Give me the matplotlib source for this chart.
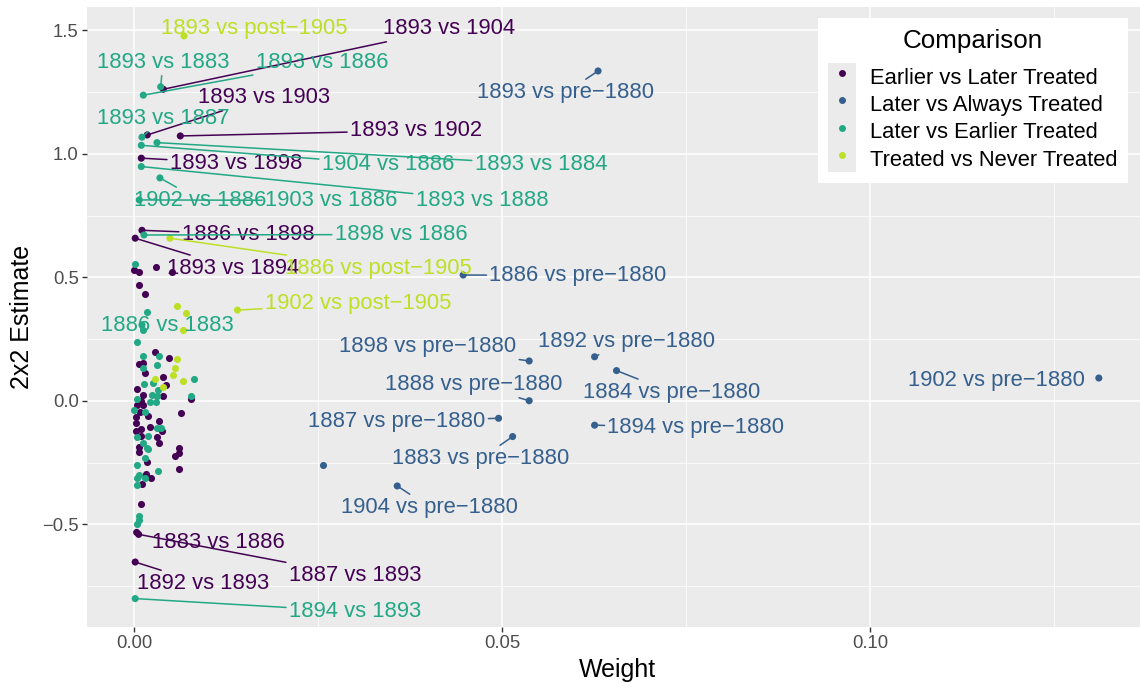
import matplotlib
matplotlib.use('Agg')
import matplotlib.pyplot as plt
from matplotlib.lines import Line2D
from matplotlib.patches import Rectangle
from matplotlib.legend_handler import HandlerLine2D

plt.rcParams['font.family'] = ['Liberation Sans', 'DejaVu Sans']

groups = ['Earlier vs Later Treated', 'Later vs Always Treated',
          'Later vs Earlier Treated', 'Treated vs Never Treated']
pal = plt.cm.viridis([0.0, 0.3, 0.6, 0.9])
colors = dict(zip(groups, pal))

# unlabeled 2x2 estimates, by comparison type
elt_w = [0.0, 0.00065, 0.00292, 0.0051, 0.00057, 0.00139,
         0.00283, 0.00465, 0.00057, 0.00111, 0.00147, 0.00383, 0.00428, 0.00038,
         0.00111, 0.00383, 0.00084, 0.00764, 0.0003, 0.0012, 0.00075, 0.00636,
         0.00183, 0.0002, 0.0002, 0.00337, 0.00211, 0.00374, 0.0002, 0.00084,
         0.00084, 0.0031, 0.00337, 0.006, 0.00057,
         0.00065, 0.006, 0.00554, 0.00166, 0.006, 0.00156, 0.0022, 0.00102, 0.00084]
elt_e = [0.529, 0.523, 0.544, 0.523, 0.470, 0.434,
         0.198, 0.174, 0.150, 0.155, 0.112, 0.096, 0.064, 0.047,
         0.026, 0.020, -0.001, 0.007, -0.017, -0.017, -0.045, -0.050,
         -0.061, -0.066, -0.088, -0.082, -0.107, -0.123, -0.120, -0.115,
         -0.142, -0.147, -0.169, -0.190, -0.185,
         -0.205, -0.211, -0.221, -0.248, -0.275, -0.297, -0.310, -0.337, -0.416]

let_w = [0.0001, 0.00166, 0.00111, 0.0004,
         0.00337, 0.0012, 0.0031, 0.00111, 0.00808, 0.00256, 0.00129, 0.00319,
         0.00238, 0.00302, 0.0003, 0.00211, 0.00292, 0.00764, 0.0, 0.00147,
         0.00302, 0.00364, 0.0003, 0.00183, 0.0012, 0.00166,
         0.00183, 0.00147, 0.0003, 0.00319, 0.00065, 0.0003, 0.00139, 0.0004,
         0.00057, 0.00065, 0.0004]
let_e = [0.553, 0.359, 0.287, 0.238,
         0.182, 0.182, 0.147, 0.134, 0.090, 0.074, 0.069, 0.045,
         0.026, 0.020, 0.009, -0.004, -0.004, 0.020, -0.036, -0.045,
         -0.109, -0.109, -0.147, -0.142, -0.169, -0.190,
         -0.194, -0.232, -0.259, -0.283, -0.300, -0.313, -0.313, -0.340,
         -0.464, -0.483, -0.497]

tnt_w = [0.00573, 0.007, 0.00663, 0.00573, 0.00546, 0.00527, 0.00663, 0.00274, 0.00383]
tnt_e = [0.386, 0.358, 0.287, 0.169, 0.134, 0.107, 0.080, 0.088, 0.058]

lat_w = [0.02565]
lat_e = [-0.259]

# labeled 2x2 estimates
lab_text = ['1893 vs 1904', '1893 vs 1903', '1893 vs 1902', '1893 vs 1898',
            '1886 vs 1898', '1893 vs 1894', '1883 vs 1886', '1887 vs 1893',
            '1892 vs 1893',
            '1893 vs 1883', '1893 vs 1886', '1893 vs 1887', '1893 vs 1884',
            '1904 vs 1886', '1893 vs 1888', '1902 vs 1886', '1903 vs 1886',
            '1898 vs 1886', '1886 vs 1883', '1894 vs 1893',
            '1893 vs post\u22121905', '1886 vs post\u22121905', '1902 vs post\u22121905',
            '1893 vs pre\u22121880', '1886 vs pre\u22121880', '1898 vs pre\u22121880',
            '1892 vs pre\u22121880', '1884 vs pre\u22121880', '1888 vs pre\u22121880',
            '1887 vs pre\u22121880', '1894 vs pre\u22121880', '1883 vs pre\u22121880',
            '1904 vs pre\u22121880', '1902 vs pre\u22121880']
lab_group = [groups[0]] * 9 + [groups[2]] * 11 + [groups[3]] * 3 + [groups[1]] * 11
lab_w = [0.00392, 0.00174, 0.00623, 0.00093, 0.00102, 0.0001, 0.0003, 0.00057, 0.0001,
         0.00356, 0.0012, 0.00102, 0.00306, 0.00093, 0.00093, 0.00346, 0.00065,
         0.00129, 0.00102, 0.0001,
         0.00673, 0.00482, 0.0140,
         0.0630, 0.04467, 0.05364, 0.06253, 0.06551, 0.05364, 0.04948, 0.06253,
         0.05139, 0.03571, 0.13105]
lab_e = [1.262, 1.077, 1.073, 0.983, 0.691, 0.659, -0.532, -0.540, -0.652,
         1.272, 1.238, 1.068, 1.046, 1.035, 0.949, 0.903, 0.814, 0.672, 0.308, -0.80,
         1.478, 0.659, 0.368,
         1.336, 0.510, 0.162, 0.179, 0.123, 0.001, -0.070, -0.098, -0.144, -0.344, 0.093]

# where the repelled labels ended up (data coords)
label_pos = [(0.04273, 1.518), (0.01760, 1.239), (0.03825, 1.105), (0.01379, 0.972),
             (0.01542, 0.684), (0.01345, 0.547), (0.01134, -0.563), (0.02996, -0.696),
             (0.00931, -0.729),
             (0.00387, 1.381), (0.02548, 1.381), (0.00387, 1.154), (0.05523, 0.968),
             (0.03444, 0.968), (0.04721, 0.822), (0.0089, 0.822), (0.0267, 0.822),
             (0.03621, 0.684), (0.00442, 0.316), (0.02996, -0.842),
             (0.01624, 1.518), (0.03308, 0.547), (0.03037, 0.405),
             (0.05863, 1.259), (0.06026, 0.518), (0.03988, 0.231), (0.06692, 0.251),
             (0.07303, 0.045), (0.04613, 0.077), (0.03567, -0.073), (0.07629, -0.097),
             (0.04708, -0.223), (0.04015, -0.421), (0.11719, 0.093)]
no_segment = {'1886 vs 1883', '1893 vs post\u22121905', '1902 vs pre\u22121880', '1883 vs 1886'}

fig = plt.figure(figsize=(11.4, 6.83), dpi=100)
ax = fig.add_axes([87 / 1140, 1 - 627 / 683, 1060 / 1140, 620 / 683])
ax.set_facecolor('#EBEBEB')
for s in ax.spines.values():
    s.set_visible(False)

ms = 26
ax.scatter(elt_w, elt_e, s=ms, color=colors[groups[0]], linewidths=0, zorder=3)
ax.scatter(lat_w, lat_e, s=ms, color=colors[groups[1]], linewidths=0, zorder=3)
ax.scatter(let_w, let_e, s=ms, color=colors[groups[2]], linewidths=0, zorder=3)
ax.scatter(tnt_w, tnt_e, s=ms, color=colors[groups[3]], linewidths=0, zorder=3)
ax.scatter(lab_w, lab_e, s=ms, color=[colors[g] for g in lab_group], linewidths=0, zorder=3)

for txt, g, w, e, (tx, ty) in zip(lab_text, lab_group, lab_w, lab_e, label_pos):
    c = colors[g]
    arrow = None
    if txt not in no_segment:
        arrow = dict(arrowstyle='-', color=c, lw=1.1, shrinkA=0, shrinkB=2)
    ax.annotate(txt, xy=(w, e), xytext=(tx, ty), textcoords='data',
                ha='center', va='center_baseline', fontsize=15.8, color=c,
                arrowprops=arrow, zorder=4, annotation_clip=False)

ax.set_xlim(-0.00645, 0.1376)
ax.set_ylim(-0.915, 1.595)
ax.set_xticks([0, 0.05, 0.10])
ax.set_xticklabels(['0.00', '0.05', '0.10'])
ax.set_yticks([-0.5, 0, 0.5, 1.0, 1.5])
ax.set_yticklabels(['\u22120.5', '0.0', '0.5', '1.0', '1.5'])
ax.set_xticks([0.025, 0.075, 0.125], minor=True)
ax.set_yticks([-0.75, -0.25, 0.25, 0.75, 1.25], minor=True)
ax.tick_params(which='major', length=3.5, width=1, color='#333333',
               labelsize=13.3, labelcolor='#4D4D4D', pad=2.5)
ax.tick_params(which='minor', length=0)
ax.grid(which='major', color='white', lw=1.1)
ax.grid(which='minor', color='white', lw=0.55)
ax.set_axisbelow(True)

ax.set_xlabel('Weight', fontsize=18, labelpad=4)
ax.set_ylabel('2x2 Estimate', fontsize=18, labelpad=6)


class KeyHandler(HandlerLine2D):
    def create_artists(self, legend, orig_handle, xdescent, ydescent, width, height, fontsize, trans):
        bg = Rectangle((-xdescent, -ydescent), width, height, facecolor='#EBEBEB',
                       edgecolor='none', transform=trans)
        arts = super().create_artists(legend, orig_handle, xdescent, ydescent,
                                      width, height, fontsize, trans)
        return [bg] + list(arts)


handles = [Line2D([], [], ls='none', marker='o', markersize=5, markeredgewidth=0,
                  color=colors[g]) for g in groups]
leg = ax.legend(handles, groups, title='Comparison', loc='upper right',
                bbox_to_anchor=(1128 / 1140, 1 - 18 / 683), bbox_transform=fig.transFigure,
                fontsize=15.8, title_fontsize=18.7, frameon=True, fancybox=False,
                edgecolor='none', facecolor='white', framealpha=1,
                labelspacing=0, handleheight=1.54, handlelength=1.27, handletextpad=0.6,
                borderpad=0.5, borderaxespad=0,
                handler_map={Line2D: KeyHandler(numpoints=1)})
leg.set_zorder(6)
# a little room between the legend title and the keys
leg._legend_box.sep = 7

fig.savefig('out.png', dpi=100)
